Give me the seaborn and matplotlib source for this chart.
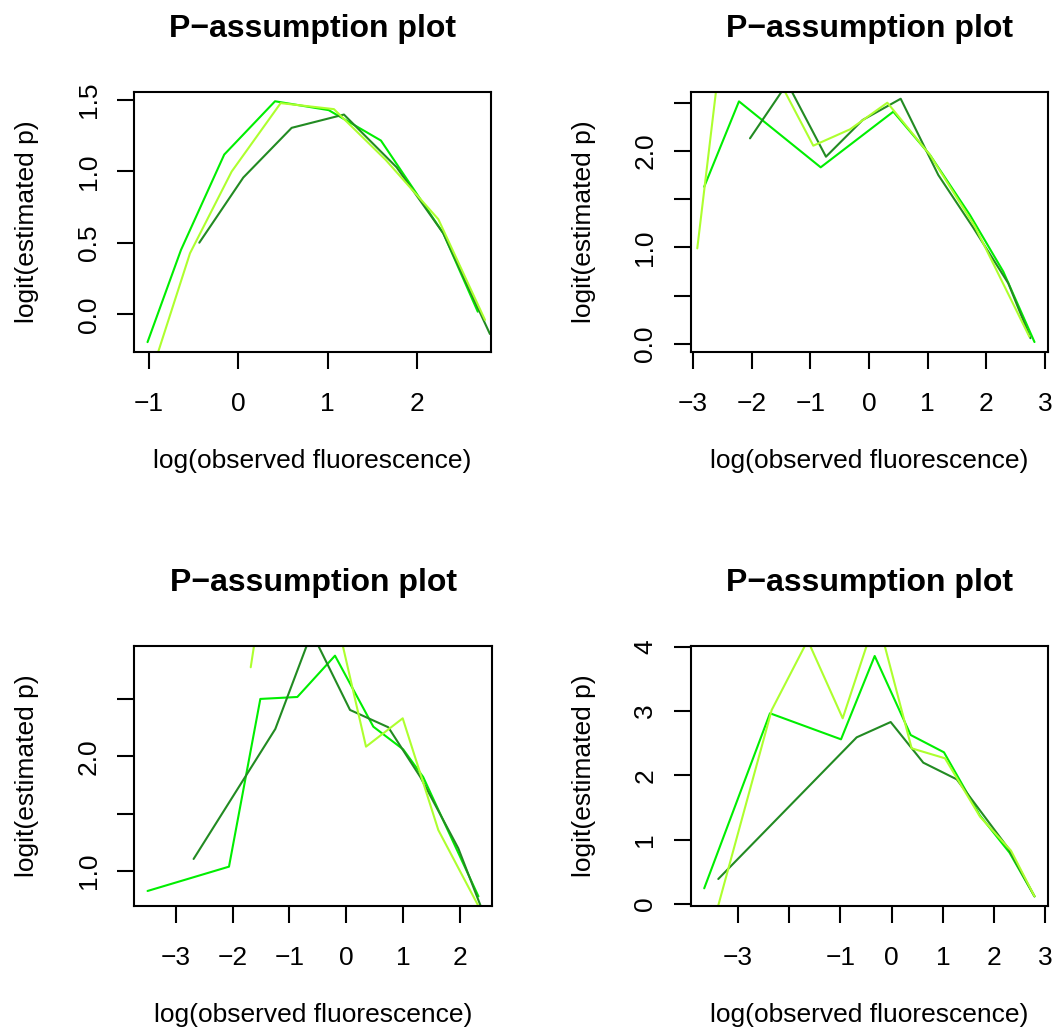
import matplotlib
matplotlib.use("Agg")
import matplotlib.pyplot as plt
import pandas as pd
import seaborn as sns

# ---------------- data ----------------
# Panel 1 (top left)
p1_bright_x = [-1.015, -0.641, -0.157, 0.411, 1.011, 1.596, 2.293, 2.679]
p1_bright_y = [-0.195, 0.450, 1.118, 1.491, 1.429, 1.216, 0.567, 0.018]
p1_dark_x = [-0.436, 0.056, 0.597, 1.182, 1.771, 2.293, 2.815]
p1_dark_y = [0.501, 0.957, 1.305, 1.398, 1.029, 0.567, -0.138]
p1_light_x = [-0.93, -0.540, -0.074, 0.474, 1.070, 1.65, 2.238, 2.76]
p1_light_y = [-0.33, 0.427, 0.999, 1.478, 1.436, 1.08, 0.665, -0.04]

# Panel 2 (top right)
p2_bright_x = [-2.807, -2.215, -0.823, 0.414, 1.039, 1.72, 2.288, 2.819]
p2_bright_y = [1.628, 2.512, 1.829, 2.405, 1.957, 1.335, 0.749, 0.02]
p2_dark_x = [-2.027, -1.39, -0.733, -0.108, 0.540, 1.181, 1.78, 2.373, 2.75]
p2_dark_y = [2.129, 2.70, 1.939, 2.319, 2.539, 1.749, 1.20, 0.628, 0.06]
p2_light_x = [-2.925, -2.39, -0.949, -0.324, 0.312, 1.039, 1.806, 2.731]
p2_light_y = [0.990, 3.72, 2.053, 2.222, 2.498, 1.957, 1.214, 0.076]

# Panel 3 (bottom left)
p3_bright_x = [-3.493, -2.062, -1.511, -0.861, -0.199, 0.475, 1.0, 1.35, 2.322]
p3_bright_y = [0.826, 1.038, 2.5, 2.517, 2.877, 2.258, 2.06, 1.82, 0.779]
p3_dark_x = [-2.684, -1.248, -0.608, 0.065, 0.738, 1.3, 1.968, 2.42]
p3_dark_y = [1.105, 2.238, 3.08, 2.404, 2.253, 1.82, 1.198, 0.62]
p3_light_x = [-1.68, -1.0, -0.32, 0.346, 0.991, 1.617, 2.38]
p3_light_y = [2.776, 4.98, 3.52, 2.084, 2.331, 1.357, 0.64]

# Panel 4 (bottom right)
p4_bright_x = [-3.662, -2.377, -0.99, -0.332, 0.371, 1.021, 1.72, 2.30, 2.789]
p4_bright_y = [0.244, 2.966, 2.561, 3.857, 2.628, 2.359, 1.38, 0.80, 0.119]
p4_dark_x = [-3.387, -0.684, -0.02, 0.617, 1.27, 2.277, 2.789]
p4_dark_y = [0.389, 2.592, 2.83, 2.198, 1.939, 0.866, 0.119]
p4_light_x = [-3.40, -2.344, -1.64, -0.957, -0.293, 0.39, 1.041, 1.725, 2.33, 2.789]
p4_light_y = [-0.06, 3.017, 4.10, 2.888, 4.49, 2.421, 2.266, 1.358, 0.83, 0.119]

# tick values / labels
p1_xticks = [-1, 0, 1, 2]
p1_xlabels = ["\u22121", "0", "1", "2"]
p1_yticks = [0.0, 0.5, 1.0, 1.5]
p1_ylabels = ["0.0", "0.5", "1.0", "1.5"]

p2_xticks = [-3, -2, -1, 0, 1, 2, 3]
p2_xlabels = ["\u22123", "\u22122", "\u22121", "0", "1", "2", "3"]
p2_yticks = [0.0, 0.5, 1.0, 1.5, 2.0, 2.5]
p2_ylabels = ["0.0", "", "1.0", "", "2.0", ""]

p3_xticks = [-3, -2, -1, 0, 1, 2]
p3_xlabels = ["\u22123", "\u22122", "\u22121", "0", "1", "2"]
p3_yticks = [1.0, 1.5, 2.0, 2.5]
p3_ylabels = ["1.0", "", "2.0", ""]

p4_xticks = [-3, -2, -1, 0, 1, 2, 3]
p4_xlabels = ["\u22123", "", "\u22121", "0", "1", "2", "3"]
p4_yticks = [0, 1, 2, 3, 4]
p4_ylabels = ["0", "1", "2", "3", "4"]

title_text = "P\u2212assumption plot"
xlab_text = "log(observed fluorescence)"
ylab_text = "logit(estimated p)"

# ---------------- styling ----------------
sns.set_style("white")
plt.rcParams['font.family'] = ['Liberation Sans', 'DejaVu Sans']
plt.rcParams['text.color'] = 'black'
plt.rcParams['axes.labelcolor'] = 'black'
plt.rcParams['xtick.color'] = 'black'
plt.rcParams['ytick.color'] = 'black'

COL_BRIGHT = "#00EE00"
COL_DARK = "#228B22"
COL_LIGHT = "#ADFF2F"

W, H = 1056, 1034
fig = plt.figure(figsize=(W / 100, H / 100), dpi=100)


def px_rect(left, top, right, bottom):
    return [left / W, 1 - bottom / H, (right - left) / W, (bottom - top) / H]


panels = [
    dict(rect=px_rect(134.3, 91.7, 491.0, 351.7),
         series=[(p1_bright_x, p1_bright_y, COL_BRIGHT),
                 (p1_dark_x, p1_dark_y, COL_DARK),
                 (p1_light_x, p1_light_y, COL_LIGHT)],
         xlim=(-1.163, 2.827), ylim=(-0.262, 1.558),
         xt=(p1_xticks, p1_xlabels), yt=(p1_yticks, p1_ylabels)),
    dict(rect=px_rect(691.0, 91.7, 1047.7, 351.7),
         series=[(p2_bright_x, p2_bright_y, COL_BRIGHT),
                 (p2_dark_x, p2_dark_y, COL_DARK),
                 (p2_light_x, p2_light_y, COL_LIGHT)],
         xlim=(-3.032, 3.044), ylim=(-0.080, 2.612),
         xt=(p2_xticks, p2_xlabels), yt=(p2_yticks, p2_ylabels)),
    dict(rect=px_rect(134.3, 645.7, 491.7, 906.0),
         series=[(p3_bright_x, p3_bright_y, COL_BRIGHT),
                 (p3_dark_x, p3_dark_y, COL_DARK),
                 (p3_light_x, p3_light_y, COL_LIGHT)],
         xlim=(-3.726, 2.555), ylim=(0.695, 2.964),
         xt=(p3_xticks, p3_xlabels), yt=(p3_yticks, p3_ylabels)),
    dict(rect=px_rect(691.0, 645.7, 1047.7, 906.0),
         series=[(p4_bright_x, p4_bright_y, COL_BRIGHT),
                 (p4_dark_x, p4_dark_y, COL_DARK),
                 (p4_light_x, p4_light_y, COL_LIGHT)],
         xlim=(-3.92, 3.047), ylim=(-0.031, 4.017),
         xt=(p4_xticks, p4_xlabels), yt=(p4_yticks, p4_ylabels)),
]

for p in panels:
    ax = fig.add_axes(p["rect"])
    for xs, ys, col in p["series"]:
        df = pd.DataFrame({"x": xs, "y": ys})
        sns.lineplot(data=df, x="x", y="y", sort=False, estimator=None,
                     color=col, linewidth=1.5, ax=ax)
    ax.set_xlim(*p["xlim"])
    ax.set_ylim(*p["ylim"])
    ax.set_xticks(p["xt"][0])
    ax.set_xticklabels(p["xt"][1])
    ax.set_yticks(p["yt"][0])
    ax.set_yticklabels(p["yt"][1], rotation=90, va="center")
    for s in ax.spines.values():
        s.set_visible(True)
        s.set_color("black")
        s.set_linewidth(1.5)
    ax.tick_params(axis="both", direction="out", length=12, width=1.5,
                   color="black", labelsize=19, labelcolor="black")
    ax.tick_params(axis="x", bottom=True, pad=16.8)
    ax.tick_params(axis="y", left=True, pad=12.3)
    ax.set_title(title_text, fontsize=23, fontweight="bold", pad=39.6,
                 color="black")
    h_px = p["rect"][3] * H
    w_px = p["rect"][2] * W
    ax.set_xlabel(xlab_text, fontsize=19, va="baseline", color="black")
    ax.xaxis.set_label_coords(0.5, -116.0 / h_px)
    ax.set_ylabel(ylab_text, fontsize=19, va="baseline", color="black")
    ax.yaxis.set_label_coords(-100.0 / w_px, 0.5)

fig.savefig("out.png", dpi=100)
